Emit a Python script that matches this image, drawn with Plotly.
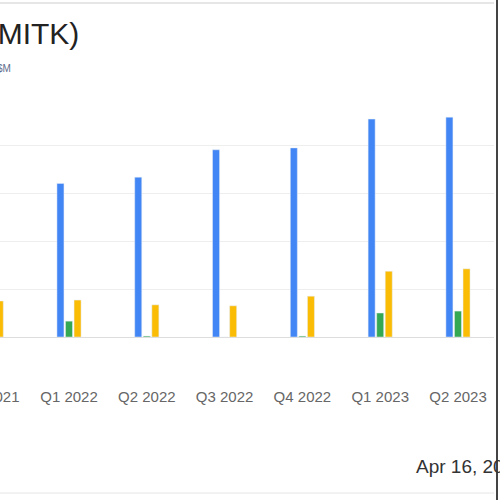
import plotly.graph_objects as go

# quarterly figures in $10M units
quarters = ['Q4 2021', 'Q1 2022', 'Q2 2022', 'Q3 2022', 'Q4 2022', 'Q1 2023', 'Q2 2023']
revenue = [3.05, 3.2, 3.33, 3.9, 3.94, 4.54, 4.58]
net_income = [0.2, 0.33, 0.02, -0.03, 0.02, 0.5, 0.54]
third_series = [0.75, 0.77, 0.67, 0.65, 0.85, 1.37, 1.42]
grid_ticks = [0, 1, 2, 3, 4, 5]

x = list(range(len(quarters)))
ni_colors = ['#34A853' if v >= 0 else '#EA4335' for v in net_income]

fig = go.Figure()
fig.add_trace(go.Bar(x=x, y=revenue, name='Revenue', marker_color='#4285F4'))
fig.add_trace(go.Bar(x=x, y=net_income, name='Net Income', marker_color=ni_colors))
fig.add_trace(go.Bar(x=x, y=third_series, name='Other', marker_color='#FBBC05'))

fig.update_layout(
    width=500, height=500,
    margin=dict(l=0, r=6, t=97, b=163),
    plot_bgcolor='white', paper_bgcolor='white',
    barmode='group', bargap=0.67, bargroupgap=0.18,
    showlegend=False,
    font=dict(family='Liberation Sans, Arial, sans-serif'),
)
fig.update_xaxes(
    range=[0.113, 6.463], tickvals=x[1:], ticktext=quarters[1:],
    showgrid=False, zeroline=False, showline=False, ticks='',
    tickfont=dict(size=15, color='#666666'), ticklabelstandoff=49,
)
fig.update_yaxes(
    range=[0, 5], tickvals=grid_ticks, showticklabels=False,
    showgrid=True, gridcolor='#eeeeee', gridwidth=1,
    zeroline=True, zerolinecolor='#dddddd', zerolinewidth=1,
)

# cut-off label of the first quarter, left of the visible area
fig.add_annotation(text=quarters[0], xref='paper', yref='paper', x=-8.8 / 494, y=-59 / 240,
                   xanchor='center', yanchor='middle', showarrow=False,
                   font=dict(size=15, color='#666666'))

# header
fig.add_annotation(text='Mitek Systems Inc (MITK)', xref='paper', yref='paper',
                   x=81 / 494, y=(337 - 33) / 240, xanchor='right', yanchor='middle',
                   showarrow=False, font=dict(size=30, color='#222222'))
fig.add_annotation(text='Quarterly Revenue, Net Income in $M', xref='paper', yref='paper',
                   x=13 / 494, y=(337 - 68) / 240, xanchor='right', yanchor='middle',
                   showarrow=False, font=dict(size=10, color='#5f6b8a'))
fig.add_annotation(text='Apr 16, 2024', xref='paper', yref='paper',
                   x=414 / 494, y=(337 - 466) / 240, xanchor='left', yanchor='middle',
                   showarrow=False, font=dict(size=19, color='#333333'))

# frame lines
fig.add_shape(type='line', xref='paper', yref='paper', x0=-0.1, x1=1, y0=(337 - 3) / 240, y1=(337 - 3) / 240,
              line=dict(color='#e6e6e6', width=2))
fig.add_shape(type='line', xref='paper', yref='paper', x0=-0.1, x1=1, y0=(337 - 493) / 240, y1=(337 - 493) / 240,
              line=dict(color='#e6e6e6', width=1))
fig.add_shape(type='line', xref='paper', yref='paper', x0=497 / 494, x1=497 / 494, y0=-1, y1=1.5,
              line=dict(color='#444444', width=2))

fig.write_html("out.html", config={'displayModeBar': False},
               post_script="document.body.style.margin='0';")
